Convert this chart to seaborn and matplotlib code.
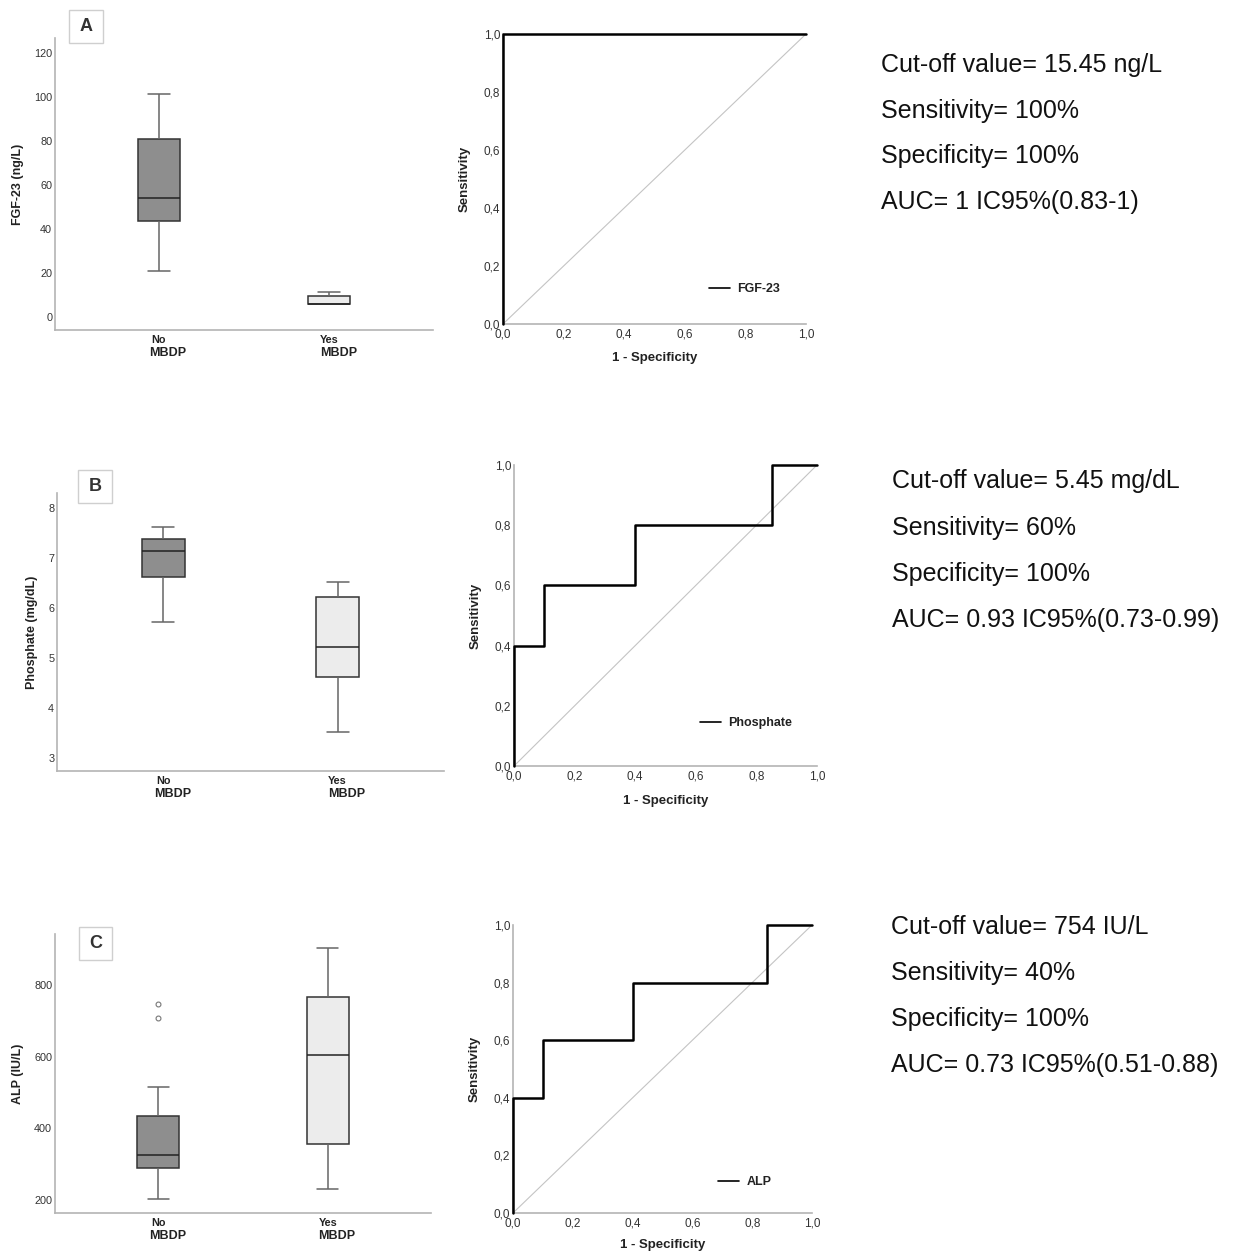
"""
Box plots and ROC curves of FGF-23, phosphate and ALP by MBDP status
"""

import numpy as np
import pandas as pd
import matplotlib.pyplot as plt
from matplotlib.patches import Rectangle
from matplotlib.ticker import FuncFormatter
import seaborn as sns

sns.set_style("white")
plt.rcParams['font.family'] = ['Liberation Sans', 'DejaVu Sans']

W, H = 1233, 1253

groups = ['No', 'Yes']

# five-number summaries (lower whisker, Q1, median, Q3, upper whisker)
fgf_no = [20.8, 43.8, 54.0, 81.0, 101.5]
fgf_yes = [5.8, 5.8, 5.9, 9.5, 11.2]
phos_no = [5.71, 6.62, 7.13, 7.37, 7.61]
phos_yes = [3.51, 4.62, 5.22, 6.22, 6.52]
alp_no = [203, 289, 325, 434, 515]
alp_yes = [231, 355, 604, 765, 902]
alp_no_outliers = [708, 748]

# ROC curve vertices (1 - specificity, sensitivity)
fgf_fpr = [0.0, 0.0, 1.0]
fgf_tpr = [0.0, 1.0, 1.0]
phos_fpr = [0.0, 0.0, 0.1, 0.1, 0.4, 0.4, 0.85, 0.85, 1.0]
phos_tpr = [0.0, 0.4, 0.4, 0.6, 0.6, 0.8, 0.8, 1.0, 1.0]
alp_fpr = [0.0, 0.0, 0.1, 0.1, 0.4, 0.4, 0.85, 0.85, 1.0]
alp_tpr = [0.0, 0.4, 0.4, 0.6, 0.6, 0.8, 0.8, 1.0, 1.0]
diag = [0.0, 1.0]

roc_ticks = [0.0, 0.2, 0.4, 0.6, 0.8, 1.0]

stats_text = {
    'A': ["Cut-off value= 15.45 ng/L", "Sensitivity= 100%",
          "Specificity= 100%", "AUC= 1 IC95%(0.83-1)"],
    'B': ["Cut-off value= 5.45 mg/dL", "Sensitivity= 60%",
          "Specificity= 100%", "AUC= 0.93 IC95%(0.73-0.99)"],
    'C': ["Cut-off value= 754 IU/L", "Sensitivity= 40%",
          "Specificity= 100%", "AUC= 0.73 IC95%(0.51-0.88)"],
}

DARK = '#8e8e8e'
LIGHT = '#ececec'
SPINE = '#b4b4b4'
TICKC = '#333333'


def rect(l, r, t, b):
    return [l / W, 1 - b / H, (r - l) / W, (b - t) / H]


def style_axes(ax):
    sns.despine(ax=ax)
    for s in ['left', 'bottom']:
        ax.spines[s].set_color(SPINE)
        ax.spines[s].set_linewidth(1.2)
    ax.tick_params(length=0, labelsize=8, colors=TICKC)


def draw_box(ax, no_vals, yes_vals, ylim, yticks, ylabel, ylab_x, outliers=None):
    df = pd.DataFrame({'group': ['No'] * len(no_vals) + ['Yes'] * len(yes_vals),
                       'value': list(no_vals) + list(yes_vals)})
    sns.boxplot(data=df, x='group', y='value', hue='group', order=groups,
                palette={'No': DARK, 'Yes': LIGHT}, width=0.25, whis=np.inf,
                linecolor='#333333', linewidth=1.1, legend=False, ax=ax,
                whiskerprops={'color': '#666666'}, capprops={'color': '#666666'},
                medianprops={'color': '#222222'})
    if outliers:
        sns.stripplot(x=['No'] * len(outliers), y=outliers, order=groups,
                      jitter=False, color='white', edgecolor='#777777',
                      linewidth=0.8, size=3.5, ax=ax)
    style_axes(ax)
    ax.set_xlim(-0.61, 1.61)
    ax.set_ylim(*ylim)
    ax.set_yticks(yticks)
    ax.tick_params(axis='y', pad=2, labelsize=7.8)
    ax.tick_params(axis='x', pad=3.5)
    ax.set_xticks([0, 1])
    ax.set_xticklabels(groups, fontsize=7.8, fontweight='bold', color='#222222')
    for i in range(2):
        ax.annotate('MBDP', xy=(i - 0.055, 0), xycoords=('data', 'axes fraction'),
                    xytext=(0, -16.5), textcoords='offset points',
                    ha='left', va='center', fontsize=9, fontweight='bold',
                    color='#222222')
    ax.set_xlabel('')
    ax.set_ylabel(ylabel, fontsize=9, fontweight='bold', color='#222222')
    ax.yaxis.set_label_coords(ylab_x, 0.5)


def draw_roc(ax, fpr, tpr, name, leg_xy, xlab_y):
    sns.lineplot(x=diag, y=diag, color='#c4c4c4', linewidth=0.8, ax=ax)
    sns.lineplot(x=fpr, y=tpr, estimator=None, sort=False, color='black',
                 linewidth=1.8, ax=ax, label=name)
    for ln in ax.lines:
        ln.set_clip_on(False)
    ax.lines[-1].set_zorder(3)
    style_axes(ax)
    ax.set_xlim(0, 1)
    ax.set_ylim(0, 1)
    ax.set_xticks(roc_ticks)
    ax.set_yticks(roc_ticks)
    fmt = FuncFormatter(lambda v, p: f"{v:.1f}".replace('.', ','))
    ax.xaxis.set_major_formatter(fmt)
    ax.yaxis.set_major_formatter(fmt)
    ax.tick_params(axis='y', pad=2, labelsize=8.5)
    ax.tick_params(axis='x', pad=3.5, labelsize=8.5)
    ax.set_xlabel('1 - Specificity', fontsize=9.5, fontweight='bold', color='#222222')
    ax.set_ylabel('Sensitivity', fontsize=9.5, fontweight='bold', color='#222222')
    ax.yaxis.set_label_coords(-0.107, 0.5)
    ax.xaxis.set_label_coords(0.5, xlab_y)
    leg = ax.legend(loc='center left', bbox_to_anchor=leg_xy, frameon=False,
                    handlelength=1.7, handletextpad=0.55, borderpad=0,
                    borderaxespad=0, prop={'weight': 'bold', 'size': 9})
    for t in leg.get_texts():
        t.set_color('#222222')
    for h in leg.legend_handles:
        h.set_linewidth(1.2)


def panel_letter(fig, letter, l, r, t, b):
    fig.add_artist(Rectangle((l / W, 1 - b / H), (r - l) / W, (b - t) / H,
                             transform=fig.transFigure, facecolor='white',
                             edgecolor='#cfcfcf', linewidth=1))
    fig.text((l + r) / 2 / W, 1 - (t + b) / 2 / H, letter, ha='center', va='center',
             fontsize=13, fontweight='bold', color='#333333')


def side_text(fig, lines, x, baselines):
    for line, yb in zip(lines, baselines):
        fig.text(x / W, 1 - yb / H, line, ha='left', va='baseline',
                 fontsize=18, color='#111111')


fig = plt.figure(figsize=(W / 100, H / 100), dpi=100)

# Panel A
ax = fig.add_axes(rect(55, 433, 38, 330))
draw_box(ax, fgf_no, fgf_yes, (-6, 127), [0, 20, 40, 60, 80, 100, 120],
         'FGF-23 (ng/L)', -0.082)
ax = fig.add_axes(rect(503, 806, 34, 324))
draw_roc(ax, fgf_fpr, fgf_tpr, 'FGF-23', (0.68, 0.12), -0.097)
panel_letter(fig, 'A', 69, 103, 10, 43)
side_text(fig, stats_text['A'], 881, [72, 118, 163, 209])

# Panel B
ax = fig.add_axes(rect(57, 444, 493, 771))
draw_box(ax, phos_no, phos_yes, (2.73, 8.29), [3, 4, 5, 6, 7, 8],
         'Phosphate (mg/dL)', -0.049)
ax = fig.add_axes(rect(514, 817, 465, 766))
draw_roc(ax, phos_fpr, phos_tpr, 'Phosphate', (0.614, 0.143), -0.096)
panel_letter(fig, 'B', 78, 112, 470, 503)
side_text(fig, stats_text['B'], 892, [488, 535, 581, 627])

# Panel C
ax = fig.add_axes(rect(55, 431, 934, 1213))
draw_box(ax, alp_no, alp_yes, (163.7, 942), [200, 400, 600, 800],
         'ALP (IU/L)', -0.082, outliers=alp_no_outliers)
ax = fig.add_axes(rect(513, 812, 925, 1213))
draw_roc(ax, alp_fpr, alp_tpr, 'ALP', (0.686, 0.108), -0.09)
panel_letter(fig, 'C', 79, 112, 927, 960)
side_text(fig, stats_text['C'], 891, [934, 980, 1026, 1072])

fig.savefig('out.png', dpi=100)
plt.close(fig)
